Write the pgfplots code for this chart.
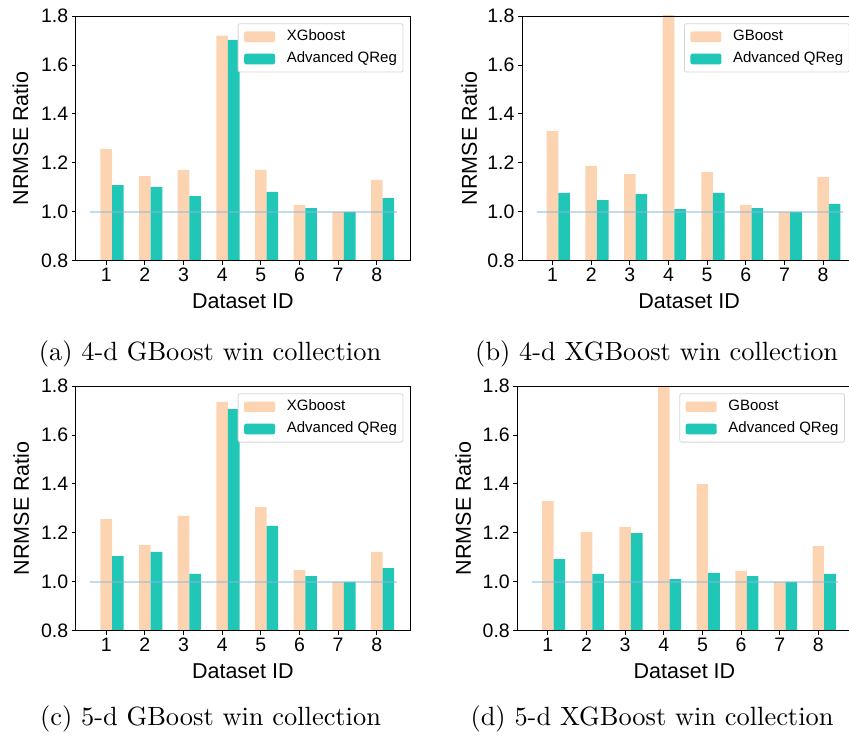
\documentclass[border=0pt]{standalone}
\usepackage{pgfplots}
\pgfplotsset{compat=1.18}
\usepackage{pgfplotstable}
\usepackage{fontspec}
\newfontfamily\arial{Liberation Sans}
\newcommand\tickfont{\arial\fontsize{19.5}{19.5}\selectfont}
\newcommand\labfont{\arial\fontsize{21.5}{21.5}\selectfont}
\newcommand\legfont{\arial\fontsize{15}{15}\selectfont}
\definecolor{peach}{HTML}{FDD4B2}
\definecolor{teal2}{HTML}{20C6B6}
\definecolor{hl}{HTML}{8AB8DA}
\definecolor{legframe}{HTML}{D6D6D6}

\pgfplotstableread{
x  a     b
1  1.256 1.109
2  1.146 1.101
3  1.171 1.064
4  1.720 1.702
5  1.171 1.081
6  1.028 1.015
7  1.000 1.000
8  1.130 1.056
}\dataA
\pgfplotstableread{
x  a     b
1  1.330 1.077
2  1.187 1.048
3  1.154 1.072
4  1.850 1.011
5  1.162 1.077
6  1.028 1.015
7  1.000 1.000
8  1.142 1.032
}\dataB
\pgfplotstableread{
x  a     b
1  1.256 1.105
2  1.150 1.122
3  1.269 1.032
4  1.735 1.706
5  1.305 1.228
6  1.048 1.023
7  1.000 1.000
8  1.122 1.056
}\dataC
\pgfplotstableread{
x  a     b
1  1.330 1.093
2  1.203 1.032
3  1.224 1.199
4  1.850 1.011
5  1.399 1.036
6  1.044 1.023
7  1.000 1.000
8  1.146 1.032
}\dataD

\pgfplotsset{
  panel/.style={
    scale only axis, width=334.3pt, height=244.7pt,
    xmin=0.21, xmax=8.86, ymin=0.8, ymax=1.8,
    xtick={1,2,3,4,5,6,7,8},
    ytick={0.8,1.0,1.2,1.4,1.6,1.8},
    yticklabel style={/pgf/number format/.cd, fixed, fixed zerofill, precision=1},
    /pgf/number format/assume math mode=true,
    tick label style={font=\tickfont},
    tick align=outside, major tick length=4pt, tick pos=left,
    axis line style={black, line width=0.9pt},
    major tick style={black, line width=0.8pt},
    axis on top,
    xlabel={Dataset ID}, ylabel={NRMSE Ratio},
    every axis x label/.style={at={(axis description cs:0.5,0)}, anchor=center, yshift=-40.3pt, font=\labfont},
    legend cell align=left,
    legend image code/.code={\fill[##1, draw=none] (0pt,-5.3pt) rectangle (31pt,5.3pt);},
    legend style={at={(1,1)}, anchor=north east, xshift=-6.7pt, yshift=-7.3pt,
      draw=legframe, line width=0.8pt, rounded corners=2pt, fill=white,
      font=\legfont, inner xsep=6pt, inner ysep=2pt, row sep=0pt,
      nodes={inner ysep=3.9pt, inner xsep=0pt, text height=11pt, text depth=3.4pt},
      /tikz/every odd column/.style={column sep=11.7pt}},
  },
}

\begin{document}
\begin{tikzpicture}
\useasboundingbox (0,0) rectangle (849pt,740pt);
\clip (0,0) rectangle (849pt,740pt);

% (a)
\begin{axis}[panel, at={(75.7pt,479.3pt)},
  every axis y label/.style={at={(axis description cs:-0.165,0.5)}, anchor=center, rotate=90, font=\labfont}]
\addplot[ybar, bar width=0.3, bar shift=0, fill=peach, draw=none] table[x=x,y=a]{\dataA};
\addplot[ybar, bar width=0.3, bar shift=0.3, fill=teal2, draw=none] table[x=x,y=b]{\dataA};
\addplot[hl, opacity=0.5, line width=1.8pt, forget plot] coordinates {(0.59,1) (8.52,1)};
\legend{XGboost, Advanced QReg}
\end{axis}

% (b)
\begin{axis}[panel, at={(522pt,479.3pt)},
  every axis y label/.style={at={(axis description cs:-0.158,0.5)}, anchor=center, rotate=90, font=\labfont}]
\addplot[ybar, bar width=0.3, bar shift=0, fill=peach, draw=none] table[x=x,y=a]{\dataB};
\addplot[ybar, bar width=0.3, bar shift=0.3, fill=teal2, draw=none] table[x=x,y=b]{\dataB};
\addplot[hl, opacity=0.5, line width=1.8pt, forget plot] coordinates {(0.59,1) (8.52,1)};
\legend{GBoost, Advanced QReg}
\end{axis}

% (c)
\begin{axis}[panel, at={(75.7pt,109.3pt)},
  every axis y label/.style={at={(axis description cs:-0.163,0.5)}, anchor=center, rotate=90, font=\labfont}]
\addplot[ybar, bar width=0.3, bar shift=0, fill=peach, draw=none] table[x=x,y=a]{\dataC};
\addplot[ybar, bar width=0.3, bar shift=0.3, fill=teal2, draw=none] table[x=x,y=b]{\dataC};
\addplot[hl, opacity=0.5, line width=1.8pt, forget plot] coordinates {(0.59,1) (8.52,1)};
\legend{XGboost, Advanced QReg}
\end{axis}

% (d)
\begin{axis}[panel, at={(517.3pt,109.3pt)},
  every axis y label/.style={at={(axis description cs:-0.1615,0.5)}, anchor=center, rotate=90, font=\labfont}]
\addplot[ybar, bar width=0.3, bar shift=0, fill=peach, draw=none] table[x=x,y=a]{\dataD};
\addplot[ybar, bar width=0.3, bar shift=0.3, fill=teal2, draw=none] table[x=x,y=b]{\dataD};
\addplot[hl, opacity=0.5, line width=1.8pt, forget plot] coordinates {(0.59,1) (8.52,1)};
\legend{GBoost, Advanced QReg}
\end{axis}

\node[anchor=base, scale=2.64] at (210pt,379.7pt) {(a) 4-d GBoost win collection};
\node[anchor=base, scale=2.64] at (656.7pt,379.7pt) {(b) 4-d XGBoost win collection};
\node[anchor=base, scale=2.64] at (210.5pt,14.7pt) {(c) 5-d GBoost win collection};
\node[anchor=base, scale=2.64] at (652pt,14.7pt) {(d) 5-d XGBoost win collection};
\end{tikzpicture}
\end{document}
